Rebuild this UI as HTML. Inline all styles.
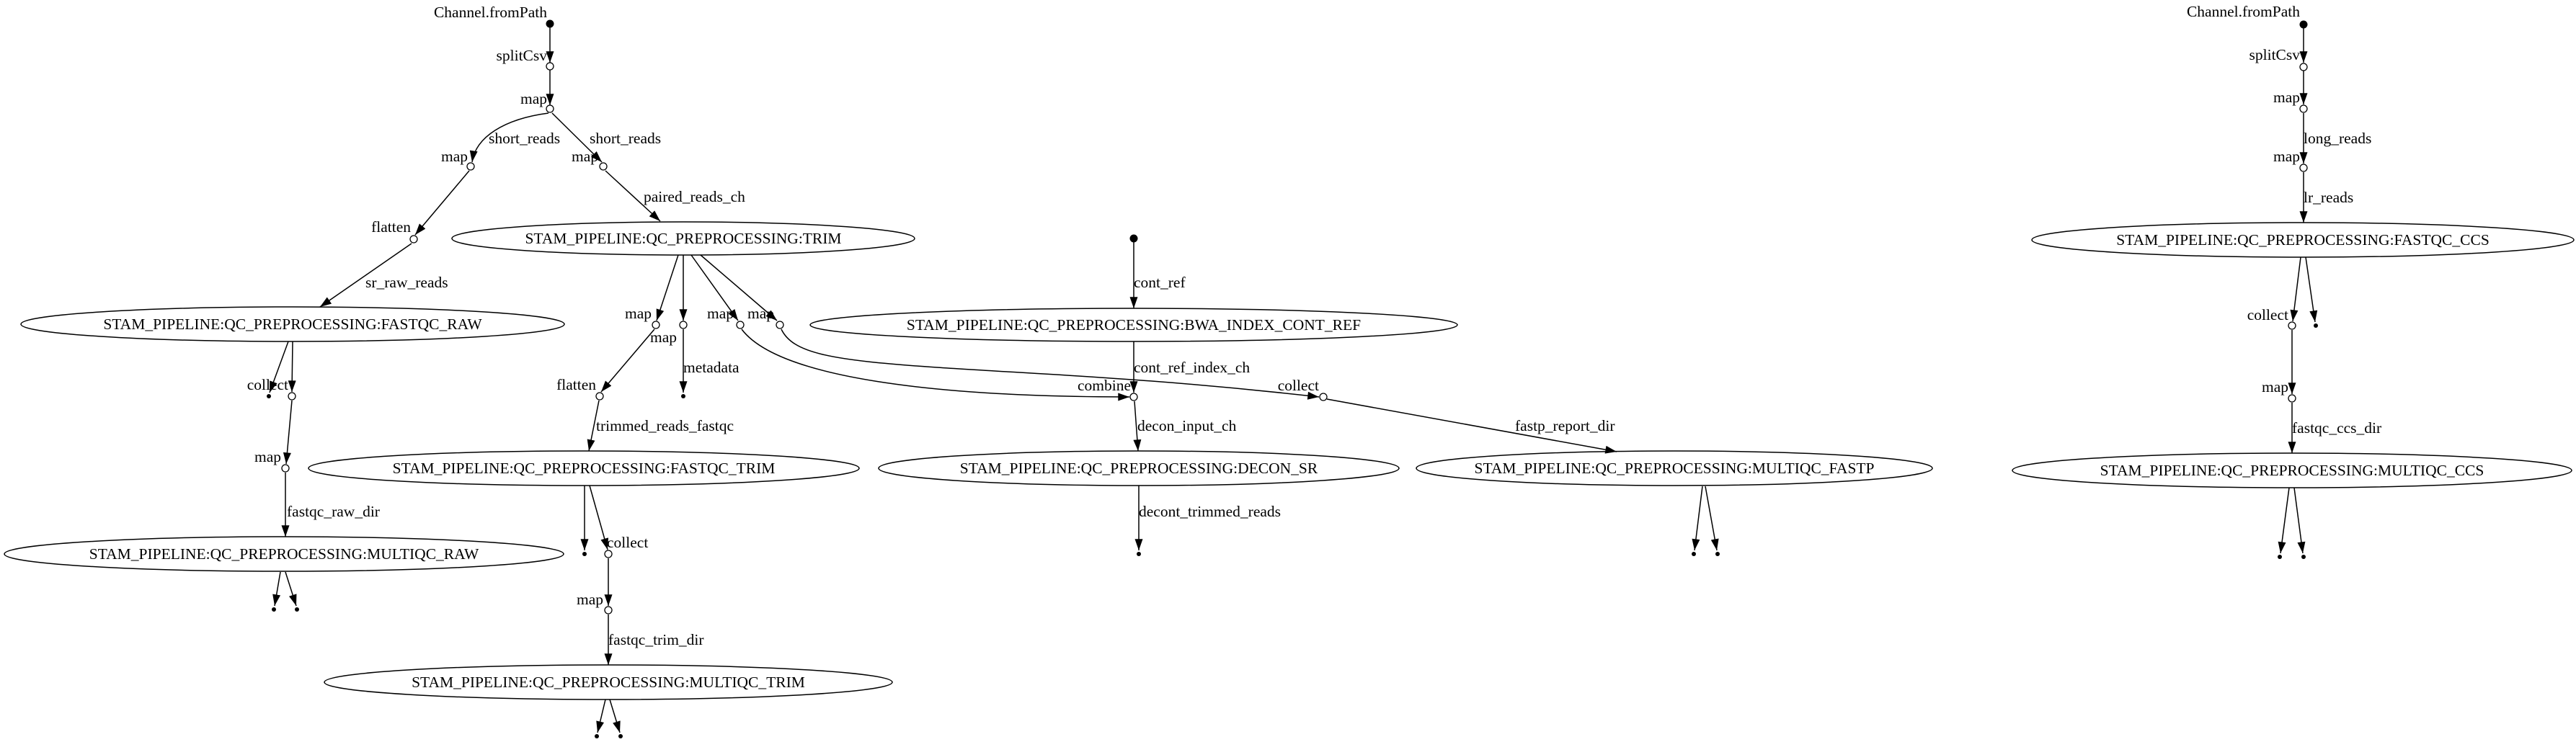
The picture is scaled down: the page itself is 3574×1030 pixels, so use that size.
<!DOCTYPE html>
<html><head><meta charset="utf-8"><style>
html,body{margin:0;padding:0;background:#fff;}
svg{display:block;}
text{font-family:"Liberation Serif",serif;font-size:21.5px;fill:#000;}
</style></head><body>
<svg width="3574" height="1030" viewBox="0 0 3574 1030" xmlns="http://www.w3.org/2000/svg">
<defs>
<marker id="a" viewBox="0 0 10 7" refX="10" refY="3.5" markerWidth="16" markerHeight="11" markerUnits="userSpaceOnUse" orient="auto"><path d="M0,0L10,3.5L0,7z" fill="#000"/></marker>
</defs>
<g fill="none" stroke="#000" stroke-width="1.5" marker-end="url(#a)">
<path d="M763,38L763,87"/>
<path d="M763,97L763,146"/>
<path d="M761,157C700,165 660,190 655,225"/>
<path d="M766,157L835,225"/>
<path d="M651,237L576,326"/>
<path d="M840,237L916,307"/>
<path d="M571,338L444,426"/>
<path d="M400,474L374,545"/>
<path d="M406,474L405,544"/>
<path d="M405,556L397,644"/>
<path d="M396,656L396,745"/>
<path d="M389,794L381,841"/>
<path d="M396,794L411,841"/>
<path d="M941,354L911,445"/>
<path d="M948,354L948,445"/>
<path d="M959,354L1024,445"/>
<path d="M972,354L1078,445"/>
<path d="M908,457L834,544"/>
<path d="M948,457L948,545"/>
<path d="M1029,457C1080,525 1300,551 1567,551"/>
<path d="M1084,457C1100,490 1150,500 1300,510C1450,520 1600,525 1830,551"/>
<path d="M831,556L817,626"/>
<path d="M811,674L811,764"/>
<path d="M818,674L843,763"/>
<path d="M844,775L844,841"/>
<path d="M844,853L844,923"/>
<path d="M840,971L829,1017"/>
<path d="M846,971L860,1017"/>
<path d="M1573,336L1573,428"/>
<path d="M1573,474L1573,545"/>
<path d="M1574,557L1579,626"/>
<path d="M1580,674L1580,764"/>
<path d="M1841,554L2243,627"/>
<path d="M2362,675L2351,764"/>
<path d="M2366,675L2382,764"/>
<path d="M3196,38L3196,87"/>
<path d="M3196,98L3196,145"/>
<path d="M3196,157L3196,227"/>
<path d="M3196,239L3196,309"/>
<path d="M3192,357L3181,446"/>
<path d="M3199,357L3212,447"/>
<path d="M3180,458L3180,547"/>
<path d="M3180,559L3180,629"/>
<path d="M3176,677L3164,768"/>
<path d="M3183,677L3195,768"/>
</g>
<g fill="none" stroke="#000" stroke-width="1.5">
<ellipse cx="948" cy="331" rx="321" ry="23"/>
<ellipse cx="406" cy="450" rx="377" ry="24"/>
<ellipse cx="810" cy="650" rx="382" ry="24"/>
<ellipse cx="394" cy="769" rx="388" ry="24"/>
<ellipse cx="844" cy="947" rx="394" ry="24"/>
<ellipse cx="1573" cy="451" rx="449" ry="23"/>
<ellipse cx="1580" cy="650" rx="361" ry="24"/>
<ellipse cx="2323" cy="650" rx="358" ry="24"/>
<ellipse cx="3195" cy="333" rx="376" ry="24"/>
<ellipse cx="3180" cy="653" rx="388" ry="24"/>
</g>
<g fill="#fff" stroke="#000" stroke-width="1.3">
<circle cx="763" cy="92" r="5"/><circle cx="763" cy="151" r="5"/>
<circle cx="653" cy="231" r="5"/><circle cx="837" cy="231" r="5"/>
<circle cx="574" cy="332" r="5"/>
<circle cx="910" cy="451" r="5"/><circle cx="948" cy="451" r="5"/><circle cx="1027" cy="451" r="5"/><circle cx="1082" cy="451" r="5"/>
<circle cx="405" cy="550" r="5"/><circle cx="396" cy="650" r="5"/>
<circle cx="832" cy="550" r="5"/><circle cx="844" cy="769" r="5"/><circle cx="844" cy="847" r="5"/>
<circle cx="1573" cy="551" r="5"/><circle cx="1836" cy="551" r="5"/>
<circle cx="3196" cy="93" r="5"/><circle cx="3196" cy="151" r="5"/><circle cx="3196" cy="233" r="5"/>
<circle cx="3180" cy="452" r="5"/><circle cx="3180" cy="553" r="5"/>
</g>
<g fill="#000">
<circle cx="763" cy="33" r="5.5"/><circle cx="1573" cy="331" r="5.5"/><circle cx="3196" cy="34" r="5.5"/>
<circle cx="373" cy="550" r="3"/><circle cx="948" cy="550" r="3"/>
<circle cx="380" cy="846" r="3"/><circle cx="412" cy="846" r="3"/>
<circle cx="811" cy="769" r="3"/>
<circle cx="828" cy="1022" r="3"/><circle cx="861" cy="1022" r="3"/>
<circle cx="1580" cy="769" r="3"/>
<circle cx="2350" cy="769" r="3"/><circle cx="2383" cy="769" r="3"/>
<circle cx="3213" cy="452" r="3"/>
<circle cx="3163" cy="773" r="3"/><circle cx="3196" cy="773" r="3"/>
</g>
<g text-anchor="middle">
<text x="948" y="338">STAM_PIPELINE:QC_PREPROCESSING:TRIM</text>
<text x="406" y="457">STAM_PIPELINE:QC_PREPROCESSING:FASTQC_RAW</text>
<text x="810" y="657">STAM_PIPELINE:QC_PREPROCESSING:FASTQC_TRIM</text>
<text x="394" y="776">STAM_PIPELINE:QC_PREPROCESSING:MULTIQC_RAW</text>
<text x="844" y="954">STAM_PIPELINE:QC_PREPROCESSING:MULTIQC_TRIM</text>
<text x="1573" y="458">STAM_PIPELINE:QC_PREPROCESSING:BWA_INDEX_CONT_REF</text>
<text x="1580" y="657">STAM_PIPELINE:QC_PREPROCESSING:DECON_SR</text>
<text x="2323" y="657">STAM_PIPELINE:QC_PREPROCESSING:MULTIQC_FASTP</text>
<text x="3195" y="340">STAM_PIPELINE:QC_PREPROCESSING:FASTQC_CCS</text>
<text x="3180" y="660">STAM_PIPELINE:QC_PREPROCESSING:MULTIQC_CCS</text>
</g>
<g text-anchor="end">
<text x="759" y="24">Channel.fromPath</text>
<text x="759" y="84">splitCsv</text>
<text x="759" y="144">map</text>
<text x="649" y="224">map</text>
<text x="830" y="224">map</text>
<text x="570" y="322">flatten</text>
<text x="904" y="442">map</text>
<text x="1018" y="442">map</text>
<text x="1074" y="442">map</text>
<text x="400" y="541">collect</text>
<text x="390" y="641">map</text>
<text x="827" y="541">flatten</text>
<text x="837" y="839">map</text>
<text x="1569" y="542">combine</text>
<text x="1830" y="542">collect</text>
<text x="3191" y="23">Channel.fromPath</text>
<text x="3191" y="83">splitCsv</text>
<text x="3191" y="142">map</text>
<text x="3191" y="224">map</text>
<text x="3175" y="444">collect</text>
<text x="3175" y="544">map</text>
</g>
<g>
<text x="678" y="199">short_reads</text>
<text x="818" y="199">short_reads</text>
<text x="893" y="280">paired_reads_ch</text>
<text x="507" y="399">sr_raw_reads</text>
<text x="902" y="475">map</text>
<text x="948" y="517">metadata</text>
<text x="827" y="598">trimmed_reads_fastqc</text>
<text x="398" y="717">fastqc_raw_dir</text>
<text x="842" y="760">collect</text>
<text x="844" y="895">fastqc_trim_dir</text>
<text x="1573" y="399">cont_ref</text>
<text x="1573" y="517">cont_ref_index_ch</text>
<text x="1578" y="598">decon_input_ch</text>
<text x="2102" y="598">fastp_report_dir</text>
<text x="1580" y="717">decont_trimmed_reads</text>
<text x="3196" y="199">long_reads</text>
<text x="3196" y="281">lr_reads</text>
<text x="3180" y="601">fastqc_ccs_dir</text>
</g>
</svg>
</body></html>
